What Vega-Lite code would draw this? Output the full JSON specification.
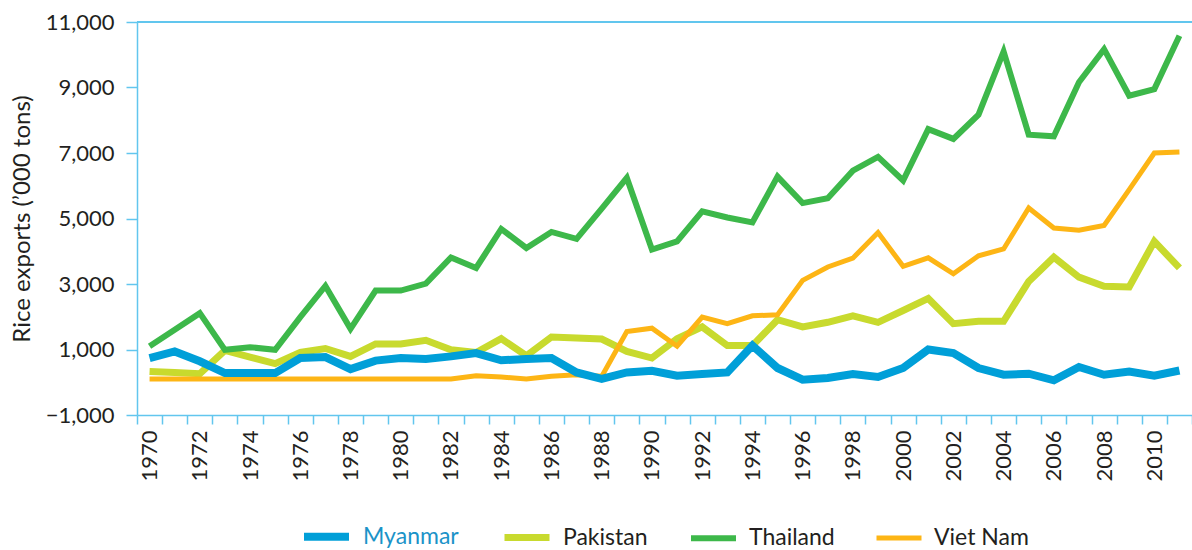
{
  "$schema": "https://vega.github.io/schema/vega-lite/v6.json",
  "width": 1055,
  "height": 393,
  "autosize": {"type": "none"},
  "padding": {"left": 137, "top": 22, "right": 0, "bottom": 135},
  "background": "white",
  "config": {
    "view": {"stroke": null},
    "font": "Lato",
    "axis": {
      "domainColor": "#62c6ee",
      "tickColor": "#62c6ee",
      "domainWidth": 1.5,
      "tickWidth": 1.5,
      "labelFont": "Lato",
      "labelFontSize": 22,
      "labelColor": "#231f20",
      "titleFont": "Lato",
      "titleFontSize": 24,
      "titleFontWeight": "normal",
      "titleColor": "#231f20",
      "grid": false
    }
  },
  "data": {"values": [
    {"year":1970,"country":"Myanmar","value":740},{"year":1971,"country":"Myanmar","value":940},{"year":1972,"country":"Myanmar","value":640},{"year":1973,"country":"Myanmar","value":280},{"year":1974,"country":"Myanmar","value":280},{"year":1975,"country":"Myanmar","value":280},{"year":1976,"country":"Myanmar","value":740},{"year":1977,"country":"Myanmar","value":770},{"year":1978,"country":"Myanmar","value":400},{"year":1979,"country":"Myanmar","value":660},{"year":1980,"country":"Myanmar","value":740},{"year":1981,"country":"Myanmar","value":710},{"year":1982,"country":"Myanmar","value":790},{"year":1983,"country":"Myanmar","value":890},{"year":1984,"country":"Myanmar","value":670},{"year":1985,"country":"Myanmar","value":710},{"year":1986,"country":"Myanmar","value":740},{"year":1987,"country":"Myanmar","value":300},{"year":1988,"country":"Myanmar","value":100},{"year":1989,"country":"Myanmar","value":300},{"year":1990,"country":"Myanmar","value":350},{"year":1991,"country":"Myanmar","value":200},{"year":1992,"country":"Myanmar","value":250},{"year":1993,"country":"Myanmar","value":300},{"year":1994,"country":"Myanmar","value":1120},{"year":1995,"country":"Myanmar","value":435},{"year":1996,"country":"Myanmar","value":80},{"year":1997,"country":"Myanmar","value":130},{"year":1998,"country":"Myanmar","value":250},{"year":1999,"country":"Myanmar","value":160},{"year":2000,"country":"Myanmar","value":435},{"year":2001,"country":"Myanmar","value":1000},{"year":2002,"country":"Myanmar","value":890},{"year":2003,"country":"Myanmar","value":435},{"year":2004,"country":"Myanmar","value":230},{"year":2005,"country":"Myanmar","value":260},{"year":2006,"country":"Myanmar","value":60},{"year":2007,"country":"Myanmar","value":465},{"year":2008,"country":"Myanmar","value":230},{"year":2009,"country":"Myanmar","value":330},{"year":2010,"country":"Myanmar","value":200},{"year":2011,"country":"Myanmar","value":360},
    {"year":1970,"country":"Pakistan","value":330},{"year":1971,"country":"Pakistan","value":295},{"year":1972,"country":"Pakistan","value":260},{"year":1973,"country":"Pakistan","value":970},{"year":1974,"country":"Pakistan","value":770},{"year":1975,"country":"Pakistan","value":570},{"year":1976,"country":"Pakistan","value":910},{"year":1977,"country":"Pakistan","value":1030},{"year":1978,"country":"Pakistan","value":790},{"year":1979,"country":"Pakistan","value":1170},{"year":1980,"country":"Pakistan","value":1170},{"year":1981,"country":"Pakistan","value":1280},{"year":1982,"country":"Pakistan","value":990},{"year":1983,"country":"Pakistan","value":910},{"year":1984,"country":"Pakistan","value":1330},{"year":1985,"country":"Pakistan","value":810},{"year":1986,"country":"Pakistan","value":1380},{"year":1987,"country":"Pakistan","value":1350},{"year":1988,"country":"Pakistan","value":1320},{"year":1989,"country":"Pakistan","value":940},{"year":1990,"country":"Pakistan","value":740},{"year":1991,"country":"Pakistan","value":1330},{"year":1992,"country":"Pakistan","value":1690},{"year":1993,"country":"Pakistan","value":1120},{"year":1994,"country":"Pakistan","value":1120},{"year":1995,"country":"Pakistan","value":1910},{"year":1996,"country":"Pakistan","value":1690},{"year":1997,"country":"Pakistan","value":1830},{"year":1998,"country":"Pakistan","value":2030},{"year":1999,"country":"Pakistan","value":1830},{"year":2000,"country":"Pakistan","value":2190},{"year":2001,"country":"Pakistan","value":2560},{"year":2002,"country":"Pakistan","value":1790},{"year":2003,"country":"Pakistan","value":1860},{"year":2004,"country":"Pakistan","value":1860},{"year":2005,"country":"Pakistan","value":3080},{"year":2006,"country":"Pakistan","value":3820},{"year":2007,"country":"Pakistan","value":3210},{"year":2008,"country":"Pakistan","value":2930},{"year":2009,"country":"Pakistan","value":2910},{"year":2010,"country":"Pakistan","value":4300},{"year":2011,"country":"Pakistan","value":3490},
    {"year":1970,"country":"Thailand","value":1100},{"year":1971,"country":"Thailand","value":1600},{"year":1972,"country":"Thailand","value":2110},{"year":1973,"country":"Thailand","value":990},{"year":1974,"country":"Thailand","value":1070},{"year":1975,"country":"Thailand","value":990},{"year":1976,"country":"Thailand","value":1990},{"year":1977,"country":"Thailand","value":2940},{"year":1978,"country":"Thailand","value":1630},{"year":1979,"country":"Thailand","value":2800},{"year":1980,"country":"Thailand","value":2800},{"year":1981,"country":"Thailand","value":3010},{"year":1982,"country":"Thailand","value":3810},{"year":1983,"country":"Thailand","value":3490},{"year":1984,"country":"Thailand","value":4680},{"year":1985,"country":"Thailand","value":4100},{"year":1986,"country":"Thailand","value":4590},{"year":1987,"country":"Thailand","value":4380},{"year":1988,"country":"Thailand","value":5300},{"year":1989,"country":"Thailand","value":6240},{"year":1990,"country":"Thailand","value":4050},{"year":1991,"country":"Thailand","value":4300},{"year":1992,"country":"Thailand","value":5220},{"year":1993,"country":"Thailand","value":5030},{"year":1994,"country":"Thailand","value":4880},{"year":1995,"country":"Thailand","value":6280},{"year":1996,"country":"Thailand","value":5470},{"year":1997,"country":"Thailand","value":5620},{"year":1998,"country":"Thailand","value":6460},{"year":1999,"country":"Thailand","value":6880},{"year":2000,"country":"Thailand","value":6160},{"year":2001,"country":"Thailand","value":7730},{"year":2002,"country":"Thailand","value":7430},{"year":2003,"country":"Thailand","value":8170},{"year":2004,"country":"Thailand","value":10100},{"year":2005,"country":"Thailand","value":7560},{"year":2006,"country":"Thailand","value":7510},{"year":2007,"country":"Thailand","value":9160},{"year":2008,"country":"Thailand","value":10170},{"year":2009,"country":"Thailand","value":8750},{"year":2010,"country":"Thailand","value":8950},{"year":2011,"country":"Thailand","value":10580},
    {"year":1970,"country":"Viet Nam","value":100},{"year":1971,"country":"Viet Nam","value":100},{"year":1972,"country":"Viet Nam","value":100},{"year":1973,"country":"Viet Nam","value":100},{"year":1974,"country":"Viet Nam","value":100},{"year":1975,"country":"Viet Nam","value":100},{"year":1976,"country":"Viet Nam","value":100},{"year":1977,"country":"Viet Nam","value":100},{"year":1978,"country":"Viet Nam","value":100},{"year":1979,"country":"Viet Nam","value":100},{"year":1980,"country":"Viet Nam","value":100},{"year":1981,"country":"Viet Nam","value":100},{"year":1982,"country":"Viet Nam","value":100},{"year":1983,"country":"Viet Nam","value":200},{"year":1984,"country":"Viet Nam","value":160},{"year":1985,"country":"Viet Nam","value":100},{"year":1986,"country":"Viet Nam","value":180},{"year":1987,"country":"Viet Nam","value":230},{"year":1988,"country":"Viet Nam","value":180},{"year":1989,"country":"Viet Nam","value":1550},{"year":1990,"country":"Viet Nam","value":1650},{"year":1991,"country":"Viet Nam","value":1100},{"year":1992,"country":"Viet Nam","value":1990},{"year":1993,"country":"Viet Nam","value":1790},{"year":1994,"country":"Viet Nam","value":2030},{"year":1995,"country":"Viet Nam","value":2060},{"year":1996,"country":"Viet Nam","value":3110},{"year":1997,"country":"Viet Nam","value":3520},{"year":1998,"country":"Viet Nam","value":3790},{"year":1999,"country":"Viet Nam","value":4570},{"year":2000,"country":"Viet Nam","value":3540},{"year":2001,"country":"Viet Nam","value":3800},{"year":2002,"country":"Viet Nam","value":3310},{"year":2003,"country":"Viet Nam","value":3860},{"year":2004,"country":"Viet Nam","value":4070},{"year":2005,"country":"Viet Nam","value":5320},{"year":2006,"country":"Viet Nam","value":4710},{"year":2007,"country":"Viet Nam","value":4640},{"year":2008,"country":"Viet Nam","value":4790},{"year":2009,"country":"Viet Nam","value":5880},{"year":2010,"country":"Viet Nam","value":7000},{"year":2011,"country":"Viet Nam","value":7030}
  ]},
  "encoding": {
    "x": {
      "field": "year",
      "type": "ordinal",
      "scale": {"paddingInner": 0, "paddingOuter": 0},
      "axis": {
        "title": null,
        "tickBand": "extent",
        "labelAngle": -90,
        "labelExpr": "datum.value % 2 == 0 ? datum.label : ''",
        "labelOverlap": false,
        "tickSize": 9,
        "labelPadding": 6
      }
    },
    "y": {
      "field": "value",
      "type": "quantitative",
      "scale": {"domain": [-1000, 11000], "nice": false, "zero": false},
      "axis": {
        "title": "Rice exports (’000 tons)",
        "values": [-1000, 1000, 3000, 5000, 7000, 9000, 11000],
        "format": ",.0f",
        "tickSize": 11,
        "labelPadding": 12,
        "titlePadding": 11
      }
    },
    "color": {
      "field": "country",
      "type": "nominal",
      "scale": {
        "domain": ["Myanmar", "Pakistan", "Thailand", "Viet Nam"],
        "range": ["#009fd8", "#c8da2e", "#3db84a", "#fdb515"]
      },
      "legend": {
        "title": null,
        "orient": "none",
        "direction": "horizontal",
        "legendX": 163,
        "legendY": 488,
        "symbolType": "stroke",
        "symbolSize": 2025,
        "symbolStrokeWidth": 5,
        "labelFont": "Lato",
        "labelFontSize": 23,
        "labelColor": "#231f20",
        "labelOffset": 10,
        "columnPadding": 31,
        "encode": {
          "labels": {"update": {"fill": {"signal": "datum.label === 'Myanmar' ? '#1b93c8' : '#231f20'"}}},
          "symbols": {"update": {"strokeWidth": {"signal": "datum.label === 'Myanmar' ? 8 : 5"}}}
        }
      }
    },
    "strokeWidth": {
      "field": "country",
      "type": "nominal",
      "scale": {"domain": ["Myanmar", "Pakistan", "Thailand", "Viet Nam"], "range": [8, 5, 5, 5]},
      "legend": null
    }
  },
  "layer": [
    {
      "mark": {"type": "rule", "color": "#62c6ee", "strokeWidth": 1.5},
      "encoding": {"y": {"datum": 11000}, "x": null, "color": null, "strokeWidth": null}
    },
    {
      "transform": [{"filter": "datum.country !== 'Myanmar'"}],
      "mark": {"type": "line", "strokeCap": "butt", "strokeJoin": "miter"}
    },
    {
      "transform": [{"filter": "datum.country === 'Myanmar'"}],
      "mark": {"type": "line", "strokeCap": "butt", "strokeJoin": "miter"}
    }
  ]
}
